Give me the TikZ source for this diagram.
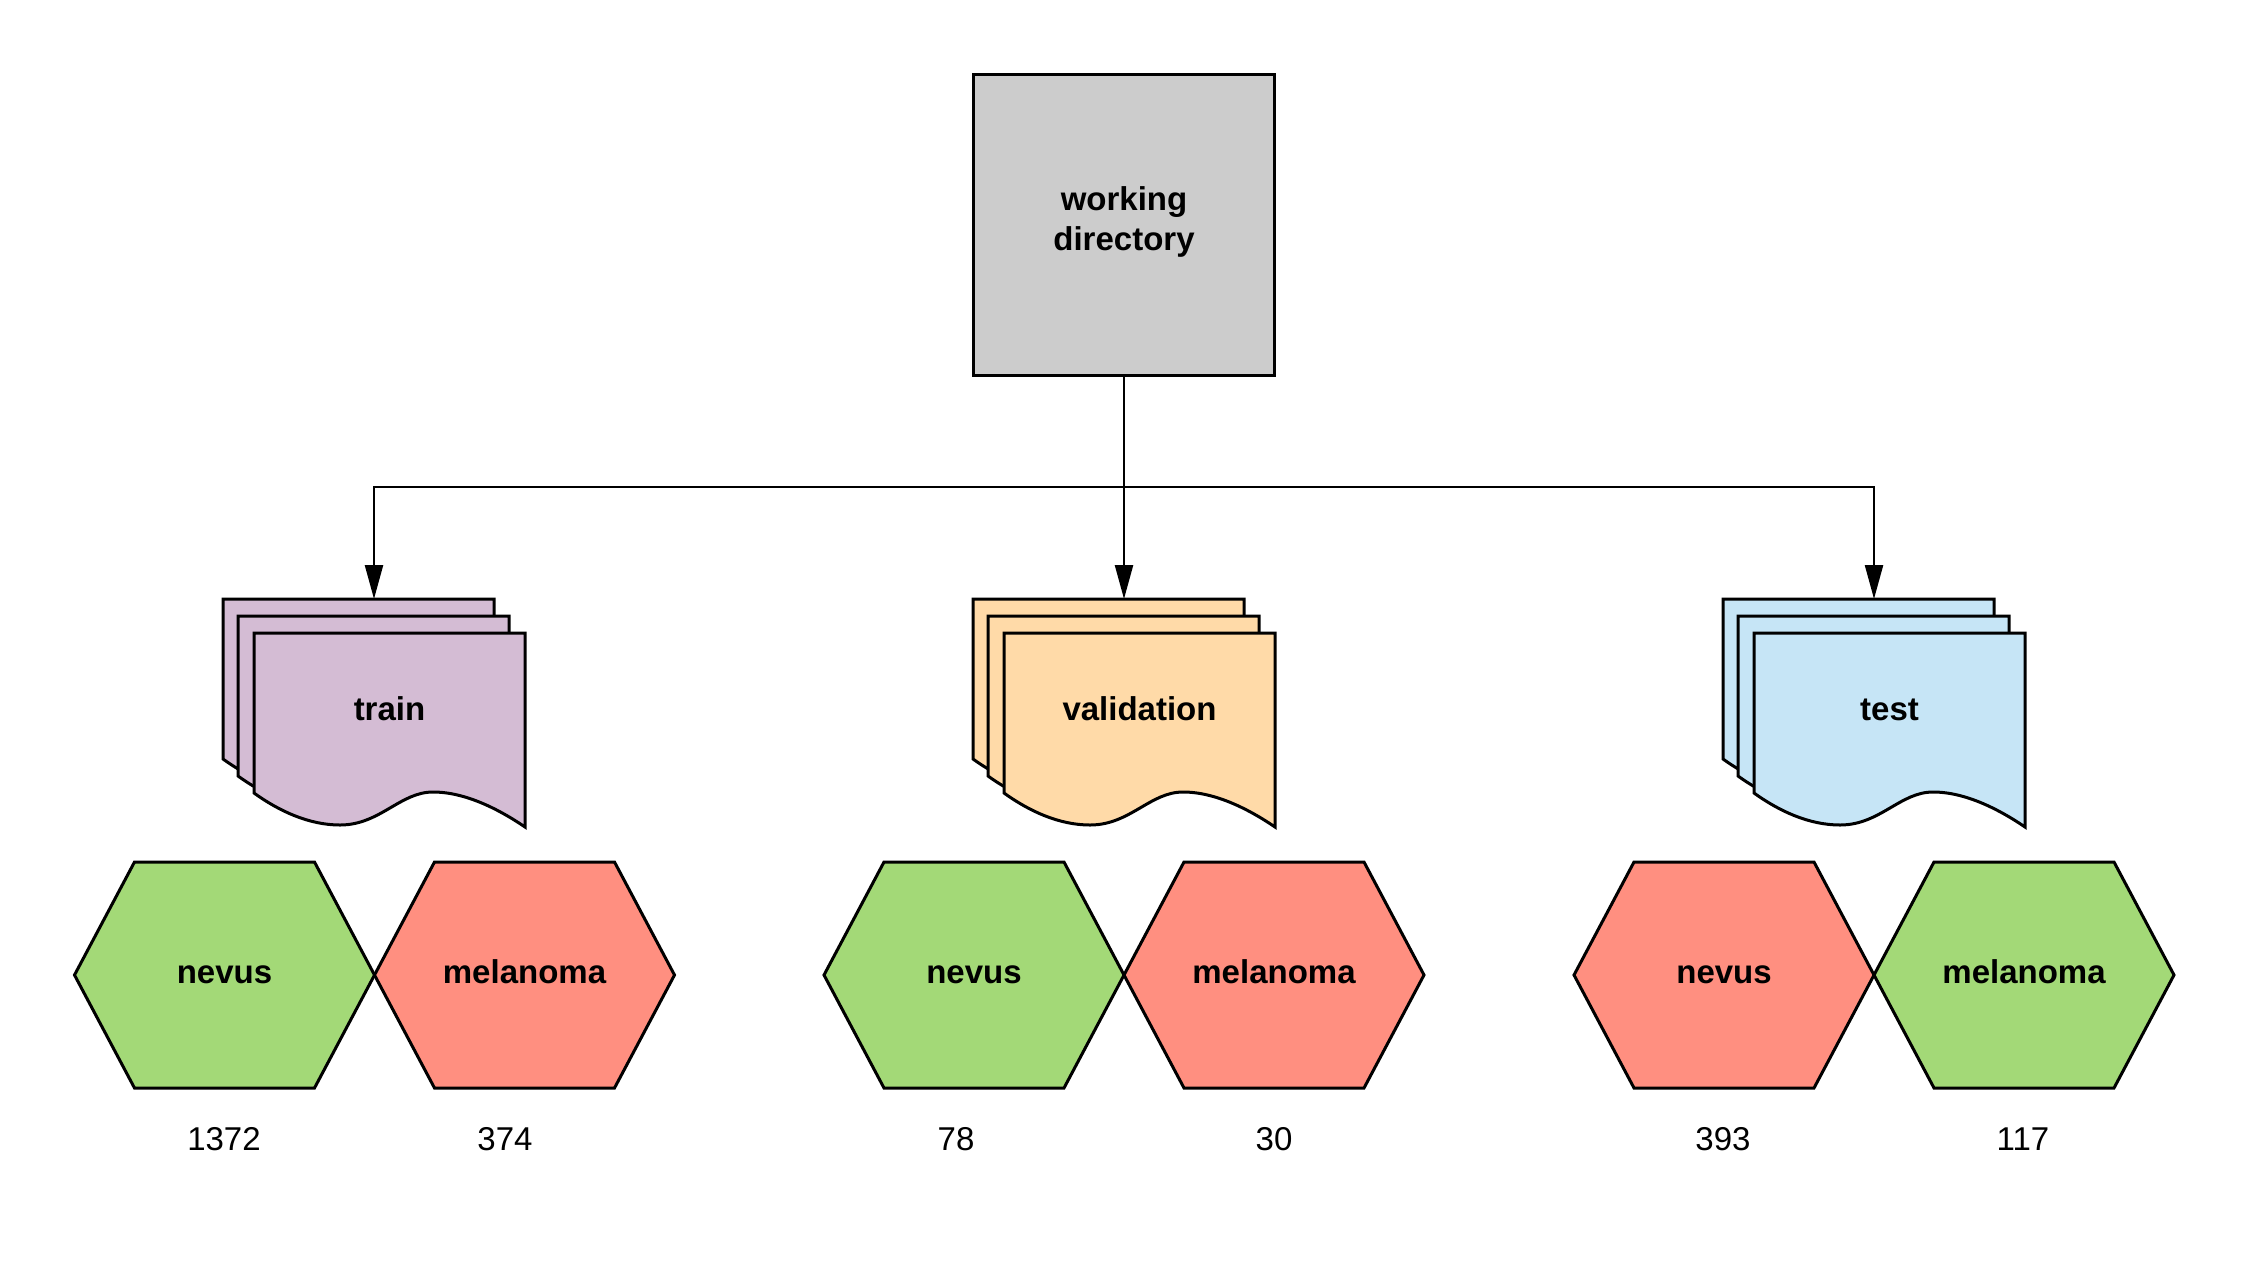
\documentclass[tikz,border=0pt]{standalone}
\usepackage{fontspec}
\setmainfont{Liberation Sans}
\usetikzlibrary{arrows.meta}
\definecolor{boxgray}{HTML}{CCCCCC}
\definecolor{trainpurple}{HTML}{D4BCD4}
\definecolor{valorange}{HTML}{FFDAA8}
\definecolor{testblue}{HTML}{C6E5F6}
\definecolor{hexgreen}{HTML}{A3D977}
\definecolor{hexred}{HTML}{FF8F80}
\tikzset{
  boldtxt/.style={font=\bfseries\fontsize{33}{40}\selectfont, align=center},
  numtxt/.style={font=\fontsize{33}{40}\selectfont},
  sheet/.style={draw=black, line width=3pt, line join=miter},
  hexa/.style={draw=black, line width=3pt, line join=miter},
  conn/.style={draw=black, line width=2.4pt, -{Triangle[width=18pt,length=34pt]}},
  plainconn/.style={draw=black, line width=2.4pt},
}
\newcommand\docsheet[3]{%
  \draw[sheet, fill=#1, shift={(#2,#3)}] (0,0) -- (271,0) -- (271,194)
    .. controls (246,177) and (212,159) .. (179,159)
    .. controls (146,159) and (126,192) .. (86,192)
    .. controls (55,192) and (25,178) .. (0,160) -- cycle;}
\newcommand\docstack[4]{% #1 fill, #2 X, #3 name, #4 label
  \docsheet{#1}{#2-151}{599}
  \docsheet{#1}{#2-136}{616}
  \docsheet{#1}{#2-120}{633}
  \node[boldtxt, anchor=base] (#3) at (#2+15.5,720) {#4};
  \coordinate (#3In) at (#2,599);}
\newcommand\hexcell[4]{% #1 name, #2 cx, #3 fill, #4 label
  \draw[hexa, fill=#3] (#2-150,975) -- (#2-90,862) -- (#2+90,862) -- (#2+150,975)
     -- (#2+90,1088) -- (#2-90,1088) -- cycle;
  \node[boldtxt, anchor=base] (#1) at (#2,983) {#4};}
\begin{document}
\begin{tikzpicture}[x=1pt,y=-1pt]
\useasboundingbox (0,0) rectangle (2250,1275);
\node[draw, line width=3pt, fill=boxgray, minimum width=301pt, minimum height=301pt,
      inner sep=0pt] (wd) at (1124,224.5) {};
\node[boldtxt] (wdtext) at (1124,222) {working\\directory};

\docstack{trainpurple}{374}{train}{train}
\docstack{valorange}{1124}{val}{validation}
\docstack{testblue}{1874}{test}{test}

\coordinate (split) at (1124,487);
\draw[plainconn] (wd.south) -- (split);
\draw[conn] (split) -- (valIn);
\draw[conn] (split) -| (trainIn);
\draw[conn] (split) -| (testIn);

\hexcell{trnev}{224.5}{hexgreen}{nevus}
\hexcell{trmel}{524.5}{hexred}{melanoma}
\hexcell{vanev}{974}{hexgreen}{nevus}
\hexcell{vamel}{1274}{hexred}{melanoma}
\hexcell{tenev}{1724}{hexred}{nevus}
\hexcell{temel}{2024}{hexgreen}{melanoma}

\node[numtxt] (n1) at (224,1139) {1372};
\node[numtxt] (n2) at (505,1139) {374};
\node[numtxt] (n3) at (956,1139) {78};
\node[numtxt] (n4) at (1274,1139) {30};
\node[numtxt] (n5) at (1723,1139) {393};
\node[numtxt] (n6) at (2023,1139) {117};
\end{tikzpicture}
\end{document}
